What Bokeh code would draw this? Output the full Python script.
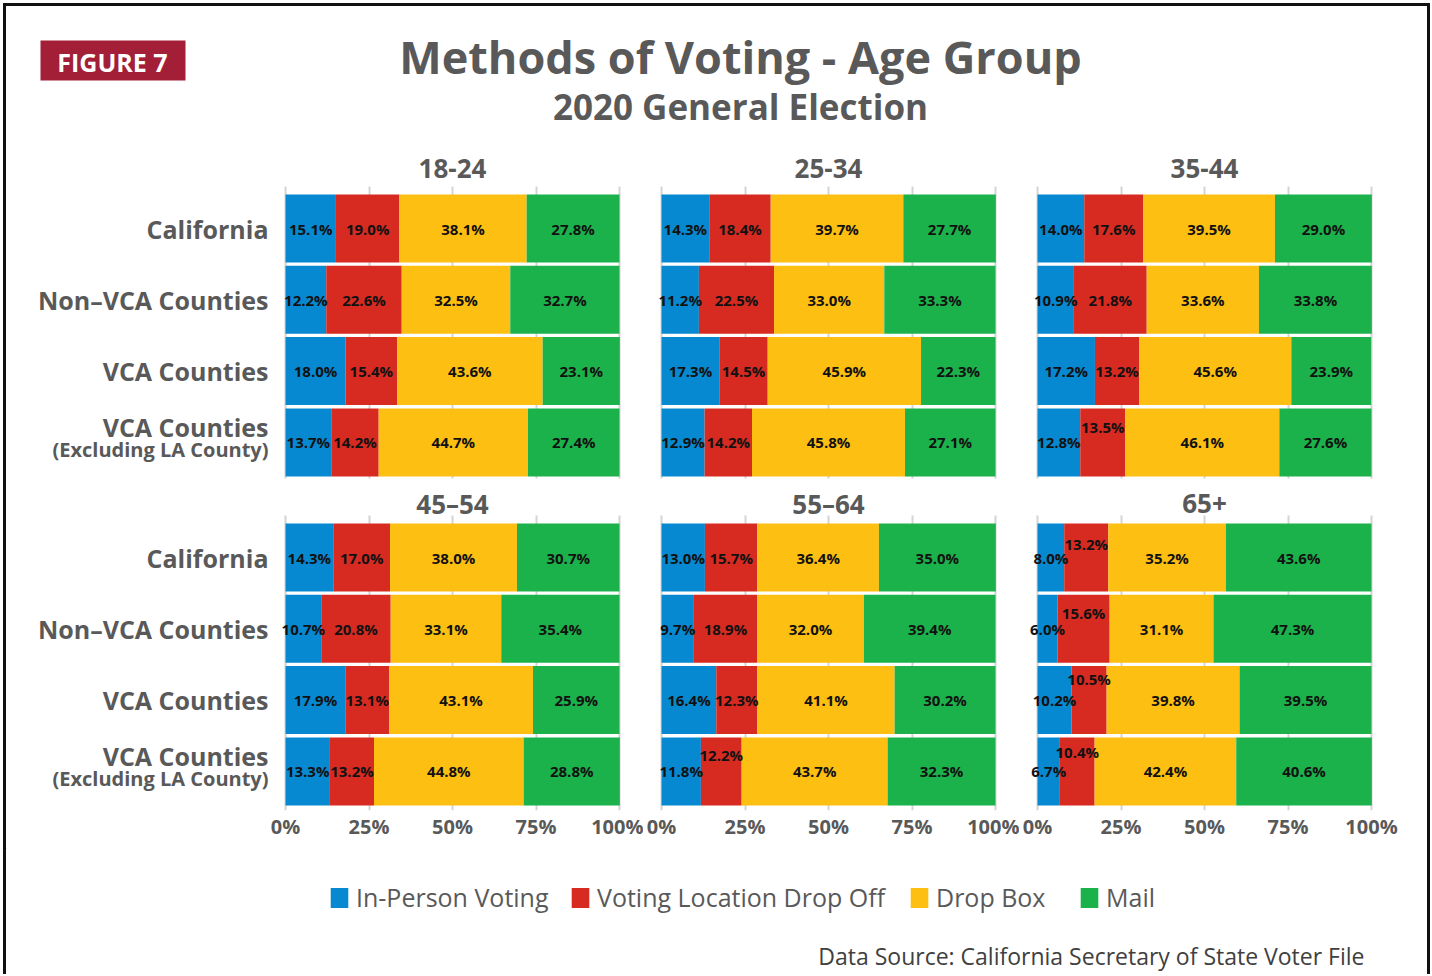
from bokeh.plotting import figure
from bokeh.models import (ColumnDataSource, Range1d, FixedTicker, PrintfTickFormatter,
                          LabelSet, Legend, LegendItem, Grid)
from bokeh.layouts import column, row
from bokeh.embed import file_html
from bokeh.resources import INLINE
from bokeh.core.properties import value

# ---------------- data ----------------
methods = ["In-Person Voting", "Voting Location Drop Off", "Drop Box", "Mail"]
colors = ["#0789D1", "#D72B22", "#FDBF12", "#1CB24B"]
regions = ["California", "Non\u2013VCA Counties", "VCA Counties", "VCA Counties"]
region_note = "(Excluding LA County)"
age_groups = ["18-24", "25-34", "35-44", "45\u201354", "55\u201364", "65+"]

in_person = [[15.1, 12.2, 18.0, 13.7], [14.3, 11.2, 17.3, 12.9], [14.0, 10.9, 17.2, 12.8],
             [14.3, 10.7, 17.9, 13.3], [13.0, 9.7, 16.4, 11.8], [8.0, 6.0, 10.2, 6.7]]
drop_off = [[19.0, 22.6, 15.4, 14.2], [18.4, 22.5, 14.5, 14.2], [17.6, 21.8, 13.2, 13.5],
            [17.0, 20.8, 13.1, 13.2], [15.7, 18.9, 12.3, 12.2], [13.2, 15.6, 10.5, 10.4]]
drop_box = [[38.1, 32.5, 43.6, 44.7], [39.7, 33.0, 45.9, 45.8], [39.5, 33.6, 45.6, 46.1],
            [38.0, 33.1, 43.1, 44.8], [36.4, 32.0, 41.1, 43.7], [35.2, 31.1, 39.8, 42.4]]
mail = [[27.8, 32.7, 23.1, 27.4], [27.7, 33.3, 22.3, 27.1], [29.0, 33.8, 23.9, 27.6],
        [30.7, 35.4, 25.9, 28.8], [35.0, 39.4, 30.2, 32.3], [43.6, 47.3, 39.5, 40.6]]
tick_values = [0, 25, 50, 75, 100]

# labels that sit raised above the bar centre (panel, row, series): px
raised = {(2, 3, 1): 15, (4, 3, 1): 16, (5, 0, 1): 14, (5, 1, 1): 16, (5, 2, 1): 21, (5, 3, 1): 19}

GRAY = "#595959"
FONT = "Open Sans"
series = [in_person, drop_off, drop_box, mail]
keys = ["s0", "s1", "s2", "s3"]

BAND = 71.3          # px per category row
PX = 3.34            # px per percent point
HAS_CROSS = "cross_bounds" in Grid.properties()

# layout geometry (px)
COL_W = [637, 376, 408]
COL_LEFT = [279, 18, 18]          # distance from figure left to 0%
ROW_H = [334, 366]
ROW_AXIS = [0, 38]                # bottom axis band
ROW_C0 = [80, 75]                 # first bar centre from figure top
ROW_TITLE = [20, 21]              # panel title centre from top
ROW_GRID0 = [38, 33]              # grid start from top
ROW_GRID1 = [330, 328]            # grid end from top


def make_panel(k):
    col = k % 3
    rr = 1 if k >= 3 else 0
    w = COL_W[col]
    h = ROW_H[rr]
    fh = h - ROW_AXIS[rr]
    x0 = -COL_LEFT[col] / PX
    x1 = x0 + w / PX
    y_top = -ROW_C0[rr] / BAND
    y_bot = y_top + fh / BAND
    p = figure(width=w, height=h, x_range=Range1d(x0, x1), y_range=Range1d(y_bot, y_top),
               output_backend="svg", toolbar_location=None,
               min_border_left=0, min_border_right=0, min_border_top=0,
               min_border_bottom=ROW_AXIS[rr])
    p.outline_line_color = None
    p.background_fill_color = "white"
    p.border_fill_color = "white"

    # grid lines
    p.xgrid.ticker = FixedTicker(ticks=tick_values)
    p.xgrid.grid_line_color = "#D4D4D4"
    p.xgrid.grid_line_width = 2
    g0 = y_top + ROW_GRID0[rr] / BAND
    g1 = y_top + ROW_GRID1[rr] / BAND
    if HAS_CROSS:
        p.xgrid.cross_bounds = (g0, g1)
    else:
        p.xgrid.visible = False
        p.segment(x0=tick_values, x1=tick_values, y0=[g0] * 5, y1=[g1] * 5,
                  line_color="#D4D4D4", line_width=2, level="underlay")
    p.ygrid.visible = False

    data = {"y": list(range(len(regions)))}
    for key, s in zip(keys, series):
        data[key] = s[k]
    src = ColumnDataSource(data)
    p.hbar_stack(keys, y="y", height=0.954, color=colors, line_color=None, source=src)

    # value labels
    lx, ly, lt, lo = [], [], [], []
    for r in range(len(regions)):
        cum = 0.0
        for si, s in enumerate(series):
            v = s[k][r]
            lx.append(cum + v / 2)
            ly.append(r)
            lt.append(f"{v:.1f}%")
            lo.append(raised.get((k, r, si), 0))
            cum += v
    lsrc = ColumnDataSource(dict(x=lx, y=ly, t=lt, o=lo))
    p.add_layout(LabelSet(x="x", y="y", text="t", y_offset="o", source=lsrc,
                          text_align="center", text_baseline="middle",
                          text_font=value(FONT), text_font_style="bold",
                          text_font_size="15px", text_color="#111111"))

    # panel title
    p.text(x=[50], y=[y_top + ROW_TITLE[rr] / BAND], text=[age_groups[k]],
           text_align="center", text_baseline="middle", text_font=value(FONT),
           text_font_style="bold", text_font_size="26px", text_color=GRAY)

    # row labels
    if col == 0:
        lxp = -17 / PX
        ys = [0, 1, 2, 3 - 15 / BAND]
        p.text(x=[lxp] * 4, y=ys, text=regions, text_align="right", text_baseline="middle",
               text_font=value(FONT), text_font_style="bold", text_font_size="25px",
               text_color=GRAY)
        p.text(x=[lxp], y=[3 + 7 / BAND], text=[region_note], text_align="right",
               text_baseline="middle", text_font=value(FONT), text_font_style="bold",
               text_font_size="20px", text_color=GRAY)

    p.yaxis.visible = False
    p.xaxis.ticker = FixedTicker(ticks=tick_values)
    p.xaxis.formatter = PrintfTickFormatter(format="%d%%")
    p.xaxis.axis_line_color = None
    p.xaxis.major_tick_line_color = None
    p.xaxis.minor_tick_line_color = None
    p.xaxis.major_label_standoff = -4
    p.xaxis.major_label_text_font = FONT
    p.xaxis.major_label_text_font_style = "bold"
    p.xaxis.major_label_text_font_size = "20px"
    p.xaxis.major_label_text_color = GRAY
    p.xaxis.visible = rr == 1
    return p


panels = [make_panel(k) for k in range(6)]

# ---------------- header ----------------
W = sum(COL_W)
HH = 142
head = figure(width=W, height=HH, x_range=Range1d(0, W), y_range=Range1d(HH, 0),
              output_backend="svg", toolbar_location=None,
              min_border_left=0, min_border_right=0, min_border_top=0, min_border_bottom=0)
head.axis.visible = False
head.grid.visible = False
head.outline_line_color = None
head.quad(left=[34], right=[179], top=[34], bottom=[74], color="#A21F37", line_color=None)
head.text(x=[106], y=[55], text=["FIGURE 7"], text_align="center", text_baseline="middle",
          text_font=value(FONT), text_font_style="bold", text_font_size="25px", text_color="white")
head.text(x=[734], y=[50], text=["Methods of Voting - Age Group"], text_align="center",
          text_baseline="middle", text_font=value(FONT), text_font_style="bold",
          text_font_size="45px", text_color=GRAY)
head.text(x=[734], y=[100], text=["2020 General Election"], text_align="center",
          text_baseline="middle", text_font=value(FONT), text_font_style="bold",
          text_font_size="35px", text_color=GRAY)

# ---------------- footer ----------------
FH = 126
foot = figure(width=W, height=FH, x_range=Range1d(0, W), y_range=Range1d(FH, 0),
              output_backend="svg", toolbar_location=None,
              min_border_left=0, min_border_right=0, min_border_top=0, min_border_bottom=0)
foot.axis.visible = False
foot.grid.visible = False
foot.outline_line_color = None
legend_x = [322, 563, 902, 1072]
for m, c, lxp in zip(methods, colors, legend_x):
    r = foot.vbar(x=[-500], top=[-500], bottom=[-501], width=1, color=c, line_color=None)
    leg = Legend(items=[LegendItem(label=m, renderers=[r])], location=(lxp, 60),
                 glyph_width=22, glyph_height=25, label_standoff=6,
                 padding=0, margin=0, border_line_color=None, background_fill_alpha=0,
                 label_text_font=FONT, label_text_font_size="25px", label_text_color=GRAY)
    foot.add_layout(leg)
foot.text(x=[1358], y=[107], text=["Data Source: California Secretary of State Voter File"],
          text_align="right", text_baseline="middle", text_font=value(FONT),
          text_font_size="23px", text_color="#404040")

layout = column(head, row(*panels[:3]), row(*panels[3:]), foot,
                styles={"border-top": "3px solid #111", "border-left": "3px solid #111",
                        "border-right": "3px solid #111", "margin-left": "3px",
                        "margin-top": "3px"})

open("out.html", "w").write(file_html(layout, INLINE))
